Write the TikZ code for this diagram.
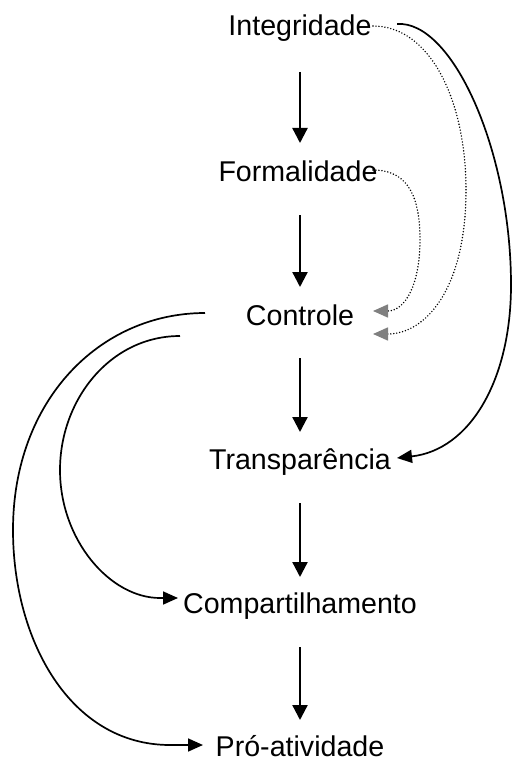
\documentclass[tikz,border=0pt]{standalone}
\usepackage{fontspec}
\setmainfont{Liberation Sans}
\usetikzlibrary{arrows.meta}
\begin{document}
\begin{tikzpicture}[x=1pt,y=-1pt,
  lbl/.style={anchor=base,inner sep=0pt,font=\fontsize{28.6}{34}\selectfont},
  varrow/.style={line width=2.3pt,-{Triangle[length=15pt,width=15pt]}},
  sarrow/.style={line width=1.7pt,-{Triangle[length=15pt,width=13pt]}},
  darrow/.style={line width=1.6pt,line cap=round,dash pattern=on 0pt off 3pt,-{Triangle[length=15pt,width=13pt,color=gray,line cap=butt]}}]
\useasboundingbox (0,0) rectangle (512,757);
\node[lbl] (I) at (300,36) {Integridade};
\node[lbl] (F) at (298,181) {Formalidade};
\node[lbl] (C) at (300,325) {Controle};
\node[lbl] (T) at (300,469) {Transparência};
\node[lbl] (Cp) at (300,613) {Compartilhamento};
\node[lbl] (P) at (300,756) {Pró-atividade};
% vertical arrows
\draw[varrow] ([shift={(0,36)}]I.base) -- ([shift={(2,-38)}]F.base);
\draw[varrow] ([shift={(2,34)}]F.base) -- ([shift={(0,-38)}]C.base);
\draw[varrow] ([shift={(0,33)}]C.base) -- ([shift={(0,-37)}]T.base);
\draw[varrow] ([shift={(0,34)}]T.base) -- ([shift={(0,-36)}]Cp.base);
\draw[varrow] ([shift={(0,34)}]Cp.base) -- ([shift={(0,-36)}]P.base);
% dotted arrows
\draw[darrow] ([shift={(73,-10)}]I.base) .. controls (430,26) and (466,100) .. (466,190)
  .. controls (466,290) and (425,334) .. ([shift={(73,9)}]C.base);
\draw[darrow] ([shift={(75,-11)}]F.base) .. controls (410,170) and (420,200) .. (420,240)
  .. controls (420,285) and (405,311) .. ([shift={(73,-14)}]C.base);
% solid right
\draw[sarrow] ([shift={(97,-12)}]I.base) .. controls (452,20) and (511,150) .. (511,285)
  .. controls (511,380) and (470,450) .. ([shift={(97,-11)}]T.base);
% left curves
\draw[sarrow] ([shift={(-95,-12)}]C.base) .. controls (100,313) and (13,400) .. (13,530)
  .. controls (13,640) and (70,745) .. (170,745) -- ([shift={(-97,-11)}]P.base);
\draw[sarrow] ([shift={(-120,11)}]C.base) .. controls (110,336) and (60,400) .. (60,470)
  .. controls (60,540) and (110,598) .. (160,598) -- ([shift={(-122,-15)}]Cp.base);
\end{tikzpicture}
\end{document}
